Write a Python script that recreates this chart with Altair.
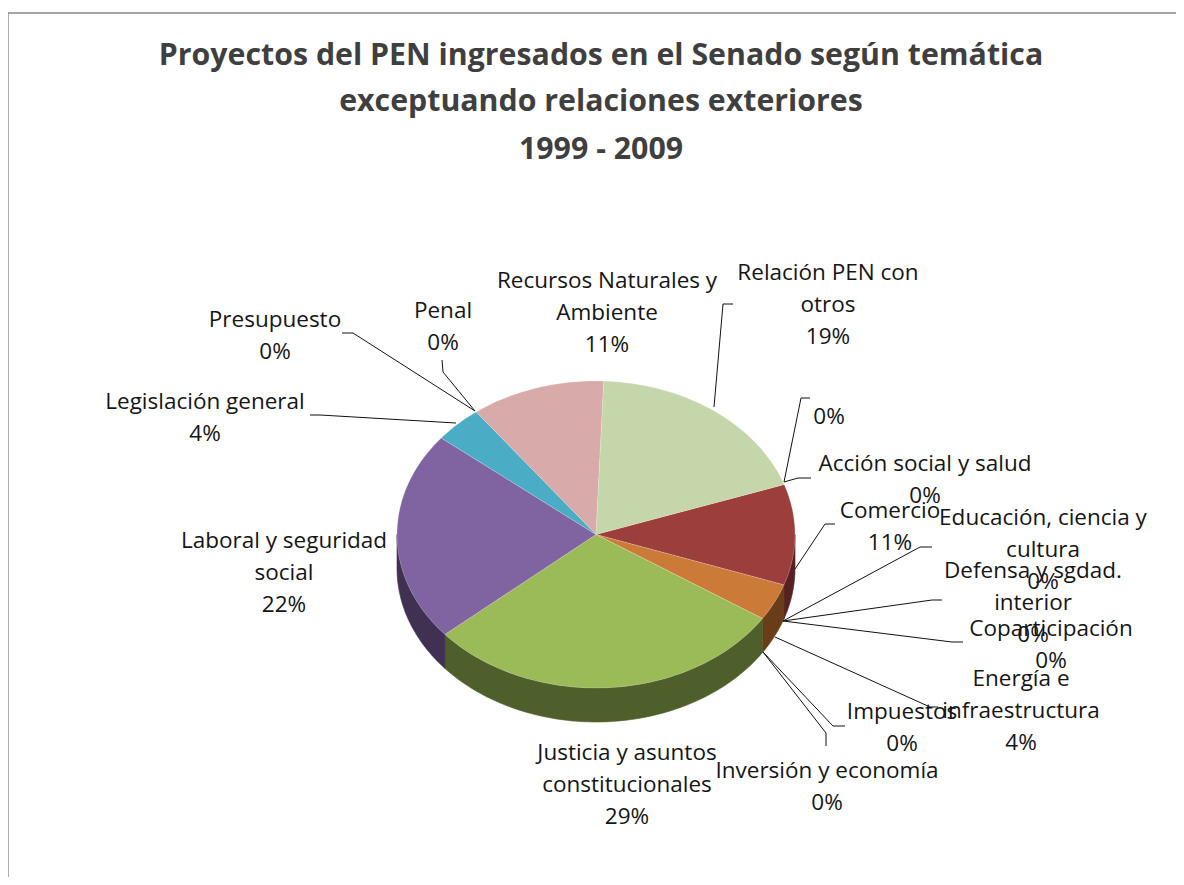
import math
import altair as alt

title_lines = ["Proyectos del PEN ingresados en el Senado según temática",
               "exceptuando relaciones exteriores", "1999 - 2009"]
title_x = [601, 601, 601]
title_y = [56, 102, 150]

# Slices, clockwise in the order of the source table (percent of the total)
categories = ["Acción social y salud", "Comercio", "Educación, ciencia y cultura",
              "Defensa y sgdad. interior", "Coparticipación", "Energía e infraestructura",
              "Impuestos", "Inversión y economía", "Justicia y asuntos constitucionales",
              "Laboral y seguridad social", "Legislación general", "Presupuesto", "Penal",
              "Recursos Naturales y Ambiente", "Relación PEN con otros", ""]
shares = [0, 10.6, 0, 0, 0, 3.9, 0, 0, 29.5, 22.1, 3.9, 0, 0, 10.9, 19.1, 0]
top_colors = ["#4f81bd", "#9c3e3c", "#9bbb59", "#8064a2", "#4bacc6", "#cb7a38", "#95b3d7", "#d99694",
              "#9bbb59", "#8064a2", "#4bacc6", "#f79646", "#376092", "#d9aaaa", "#c5d6ab", "#b3a2c7"]
side_colors = ["#2c4a70", "#552221", "#4f5f2c", "#403152", "#205867", "#693d18", "#4f6a8f", "#7a4a49",
               "#4f5f2c", "#403152", "#205867", "#974806", "#1f3655", "#7a5a5a", "#6a7a55", "#5f4a7a"]

label_lines = [
    ["Recursos Naturales y", "Ambiente", "11%"], ["Relación PEN con", "otros", "19%"], ["0%"],
    ["Acción social y salud", "0%"], ["Comercio", "11%"],
    ["Educación, ciencia y", "cultura", "0%"], ["Defensa y sgdad.", "interior", "0%"],
    ["Coparticipación", "0%"], ["Energía e", "infraestructura", "4%"], ["Impuestos", "0%"],
    ["Inversión y economía", "0%"], ["Justicia y asuntos", "constitucionales", "29%"],
    ["Laboral y seguridad", "social", "22%"], ["Legislación general", "4%"],
    ["Presupuesto", "0%"], ["Penal", "0%"],
]
label_x = [607, 828, 829, 925, 890, 1043, 1033, 1051, 1021, 902, 827, 627, 284, 205, 275, 443]
label_y = [281, 273, 417, 464, 511, 518, 571, 629, 679, 712, 771, 753, 541, 402, 320, 311]
line_step = 32.2

leaders = [
    [(714, 407), (723, 304), (733, 304)], [(784, 482), (801, 398), (810, 398)],
    [(784, 482), (798, 478), (811, 478)], [(795, 569), (825, 524), (835, 524)],
    [(783, 621), (920, 547), (932, 547)], [(783, 621), (932, 600), (942, 600)],
    [(783, 621), (952, 642), (963, 642)], [(775, 637), (930, 707), (938, 707)],
    [(763, 652), (833, 726), (845, 726)], [(763, 652), (826, 733), (826, 746)],
    [(456, 423), (320, 415), (310, 415)], [(475, 411), (353, 333), (342, 333)],
    [(475, 411), (443, 372), (442, 360)],
]
frame = [[(8, 900), (8, 13), (1190, 13)]]

OX, OY = 8, 8
CX, CY, RX, RY, DEPTH = 596, 534.5, 199, 153.5, 34
START = 71.0


def pt(angle, dy=0):
    a = math.radians(angle)
    return [CX + RX * math.sin(a) - OX, CY - RY * math.cos(a) + dy - OY]


def arc(a0, a1):
    n = max(2, int(abs(a1 - a0) / 1.5) + 1)
    return [a0 + (a1 - a0) * i / (n - 1) for i in range(n)]


def feature(kind, coords, **props):
    return {"type": "Feature", "properties": props, "geometry": {"type": kind, "coordinates": coords}}


tops, walls = [], []
angle = START
for cat, share, tc, sc in zip(categories, shares, top_colors, side_colors):
    end = angle + share * 3.6
    if share > 0:
        ring = [[CX - OX, CY - OY]] + [pt(a) for a in arc(angle, end)]
        ring.append(ring[0])
        tops.append(feature("Polygon", [ring], name=cat, fill=tc))
        for lo, hi in ((90, 270), (450, 630)):
            a0, a1 = max(angle, lo), min(end, hi)
            if a1 > a0:
                pts = arc(a0, a1)
                ring = [pt(a) for a in pts] + [pt(a, DEPTH) for a in reversed(pts)]
                ring.append(ring[0])
                walls.append(feature("Polygon", [ring], name=cat, fill=sc))
    angle = end


def polylines(items):
    return [feature("LineString", [[x - OX, y - OY] for x, y in line]) for line in items]


proj = dict(type="identity", scale=1, translate=[0, 0])
fill = alt.Color("properties.fill:N", scale=None, legend=None)
stroke = alt.Stroke("properties.fill:N", scale=None, legend=None)

wall_layer = alt.Chart(alt.Data(values=walls)).mark_geoshape(strokeWidth=0.6).encode(
    fill=fill, stroke=stroke).project(**proj)
top_layer = alt.Chart(alt.Data(values=tops)).mark_geoshape(
    stroke="#ffffff", strokeWidth=0.5, strokeOpacity=0.35).encode(fill=fill).project(**proj)
leader_layer = alt.Chart(alt.Data(values=polylines(leaders))).mark_geoshape(
    filled=False, stroke="#111111", strokeWidth=1).project(**proj)
frame_layer = alt.Chart(alt.Data(values=polylines(frame))).mark_geoshape(
    filled=False, stroke="#868686", strokeWidth=1.3).project(**proj)

label_rows = [{"t": line, "x": x - OX, "y": y + i * line_step - OY}
              for lines, x, y in zip(label_lines, label_x, label_y)
              for i, line in enumerate(lines)]
label_layer = alt.Chart(alt.Data(values=label_rows)).mark_text(
    font="Open Sans", fontSize=22.5, color="#151515", baseline="middle", align="center").encode(
    x=alt.X("x:Q", scale=None, axis=None), y=alt.Y("y:Q", scale=None, axis=None), text="t:N")

title_rows = [{"t": t, "x": x - OX, "y": y - OY} for t, x, y in zip(title_lines, title_x, title_y)]
title_layer = alt.Chart(alt.Data(values=title_rows)).mark_text(
    font="Open Sans", fontSize=30.3, fontWeight="bold", color="#3f3f3f", baseline="middle", align="center").encode(
    x=alt.X("x:Q", scale=None, axis=None), y=alt.Y("y:Q", scale=None, axis=None), text="t:N")

chart = alt.layer(frame_layer, wall_layer, top_layer, leader_layer, label_layer, title_layer).properties(
    width=1168, height=869, padding=0, autosize=alt.AutoSizeParams(type="none"),
    background="#ffffff").configure_view(stroke=None)

chart.save("out.html", embed_options={"renderer": "svg", "actions": False})
